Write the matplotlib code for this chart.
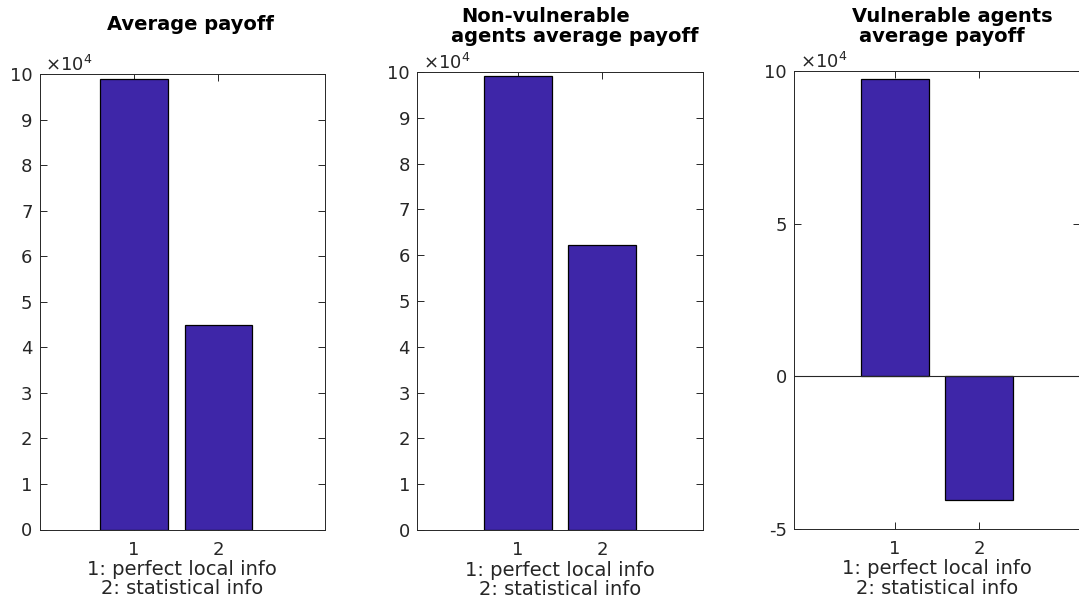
import matplotlib
matplotlib.use("Agg")
import matplotlib.pyplot as plt
from matplotlib.ticker import FuncFormatter

plt.rcParams['font.family'] = ['DejaVu Sans']
plt.rcParams['axes.unicode_minus'] = False

categories = [1, 2]
tick_labels = ["1", "2"]
avg_payoff = [98900, 44800]
nonvuln_payoff = [99060, 62300]
vuln_payoff = [97500, -40600]
xlabel_text = "1: perfect local info\n2: statistical info"

BAR = "#3E26A8"
AX = "#262626"
SCALE = 1e4

fig = plt.figure(figsize=(10.79, 5.98), dpi=100)

def px_rect(l, r, t, b):
    W, H = 1079, 598
    return [l / W, 1 - b / H, (r - l) / W, (b - t) / H]

axes_specs = [
    (px_rect(39.5, 325, 74, 529.5), avg_payoff, (-0.116, 3.26), (0, 100000), [0, 1e4, 2e4, 3e4, 4e4, 5e4, 6e4, 7e4, 8e4, 9e4, 1e5]),
    (px_rect(417, 703, 72, 530), nonvuln_payoff, (-0.2, 3.2), (0, 100000), [0, 1e4, 2e4, 3e4, 4e4, 5e4, 6e4, 7e4, 8e4, 9e4, 1e5]),
    (px_rect(794, 1080, 71, 529), vuln_payoff, (-0.2, 3.2), (-50000, 100000), [-5e4, 0, 5e4, 1e5]),
]

fmt = FuncFormatter(lambda v, p: "%g" % (v / SCALE))

axes = []
for rect, vals, xl, yl, yt in axes_specs:
    ax = fig.add_axes(rect)
    ax.bar(categories, vals, width=0.8, color=BAR, edgecolor="black", linewidth=0.9, zorder=3)
    ax.set_xlim(*xl)
    ax.set_ylim(*yl)
    ax.set_xticks(categories)
    ax.set_xticklabels(tick_labels)
    ax.set_yticks(yt)
    ax.yaxis.set_major_formatter(fmt)
    ax.text(0.02, 1.007, r"$\times\mathregular{10^4}$", transform=ax.transAxes,
            ha='left', va='baseline', fontsize=13, color=AX)
    ax.tick_params(direction='in', top=True, right=True, length=5, width=0.7,
                   colors=AX, labelsize=13, pad=5)
    ax.tick_params(axis='x', pad=8)
    for s in ax.spines.values():
        s.set_color(AX)
        s.set_linewidth(0.7)
    ax.set_xlabel(xlabel_text, fontsize=14, color=AX, labelpad=1, linespacing=1.02)
    axes.append(ax)

axes[2].axhline(0, color=AX, linewidth=0.8, zorder=4)

def ftext(x, y, s):
    fig.text(x / 1079, 1 - y / 598, s, ha='center', va='baseline',
             fontsize=14, fontweight='bold', color='black')

ftext(190, 30, "Average payoff")
ftext(546, 21.5, "Non-vulnerable")
ftext(575, 42, "agents average payoff")
ftext(952, 21.5, "Vulnerable agents")
ftext(941.5, 42.5, "average payoff")

fig.savefig("out.png", dpi=100)
